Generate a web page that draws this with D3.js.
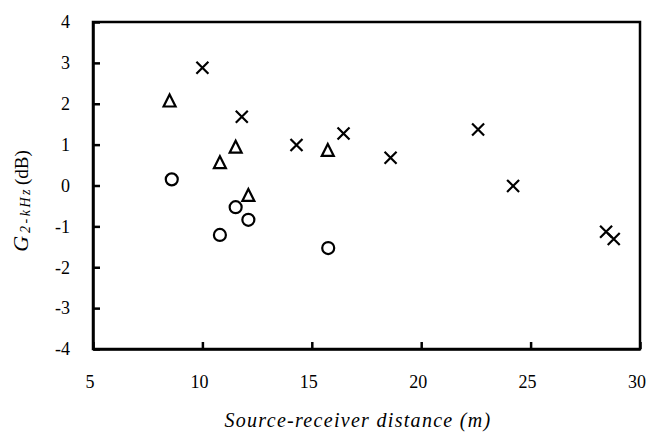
<!DOCTYPE html>
<html><head><meta charset="utf-8">
<script src="https://cdn.jsdelivr.net/npm/d3@7"></script>
<style>body{margin:0;background:#fff}svg{display:block}</style>
</head><body>
<svg id="c" width="649" height="432"></svg>
<script>
const crossX = [10.0, 11.8, 14.3, 16.45, 18.6, 22.6, 24.2, 28.45, 28.8];
const crossY = [2.88, 1.68, 0.99, 1.27, 0.68, 1.37, -0.01, -1.13, -1.31];
const triX = [8.5, 10.8, 11.52, 12.1, 15.73];
const triY = [2.08, 0.57, 0.95, -0.23, 0.87];
const circX = [8.6, 10.8, 11.52, 12.1, 15.75];
const circY = [0.15, -1.21, -0.53, -0.84, -1.53];
const xTicks = [5, 10, 15, 20, 25, 30];
const yTicks = [-4, -3, -2, -1, 0, 1, 2, 3, 4];

const svg = d3.select("#c");
const L = 93, R = 640, T = 22, B = 349;
const x = d3.scaleLinear().domain([5, 30]).range([L, R]);
const y = d3.scaleLinear().domain([-4, 4]).range([B, T]);
const serif = "Liberation Serif";

// frame
svg.append("rect").attr("x", L).attr("y", T).attr("width", R - L).attr("height", B - T)
  .attr("fill", "none").attr("stroke", "#000").attr("stroke-width", 2.5);

const xa = svg.append("g").attr("transform", `translate(0,${B})`)
  .call(d3.axisBottom(x).tickValues(xTicks).tickFormat(d => String(d)).tickSizeInner(-7).tickSizeOuter(0).tickPadding(26));
const ya = svg.append("g").attr("transform", `translate(${L},0)`)
  .call(d3.axisLeft(y).tickValues(yTicks).tickFormat(d => String(d)).tickSizeInner(-7).tickSizeOuter(0).tickPadding(23));
[xa, ya].forEach(a => {
  a.attr("font-family", null).attr("font-size", null);
  a.select(".domain").attr("stroke", "#000").attr("stroke-width", 2.5);
  a.selectAll(".tick line").attr("stroke", "#000").attr("stroke-width", 2.5);
  a.selectAll(".tick text").style("font-family", serif).style("font-size", "18px").attr("fill", "#000");
});
xa.selectAll(".tick text").attr("dx", -3.5);

// crosses
const cs = 6;
svg.append("g").selectAll("path").data(crossX.map((d, i) => [d, crossY[i]])).join("path")
  .attr("d", d => { const px = x(d[0]), py = y(d[1]);
    return `M${px - cs},${py - cs}L${px + cs},${py + cs}M${px - cs},${py + cs}L${px + cs},${py - cs}`; })
  .attr("stroke", "#000").attr("stroke-width", 2.2).attr("fill", "none");
// triangles
const tw = 6, th = 6;
svg.append("g").selectAll("path").data(triX.map((d, i) => [d, triY[i]])).join("path")
  .attr("d", d => { const px = x(d[0]), py = y(d[1]);
    return `M${px},${py - th}L${px + tw},${py + th}L${px - tw},${py + th}Z`; })
  .attr("stroke", "#000").attr("stroke-width", 2.2).attr("fill", "none").attr("stroke-linejoin", "miter");
// circles
svg.append("g").selectAll("circle").data(circX.map((d, i) => [d, circY[i]])).join("circle")
  .attr("cx", d => x(d[0])).attr("cy", d => y(d[1])).attr("r", 6)
  .attr("stroke", "#000").attr("stroke-width", 2.2).attr("fill", "none");

// x title
svg.append("text").attr("x", 358).attr("y", 427).attr("text-anchor", "middle")
  .style("font-family", serif).style("font-style", "italic").style("font-size", "20px")
  .style("letter-spacing", "1.3px").text("Source-receiver distance (m)");

// y title
const yt = svg.append("text").attr("transform", "translate(28,201) rotate(-90)")
  .attr("text-anchor", "middle").style("font-family", serif).style("font-size", "19px");
yt.append("tspan").style("font-style", "italic").style("font-size", "22px").text("G");
yt.append("tspan").style("font-style", "italic").style("font-size", "14px").style("letter-spacing", "2.5px")
  .attr("dx", 3).attr("dy", 2).text("2-kHz");
yt.append("tspan").attr("dy", -2).attr("dx", 2).text("(dB)");
</script>
</body></html>
